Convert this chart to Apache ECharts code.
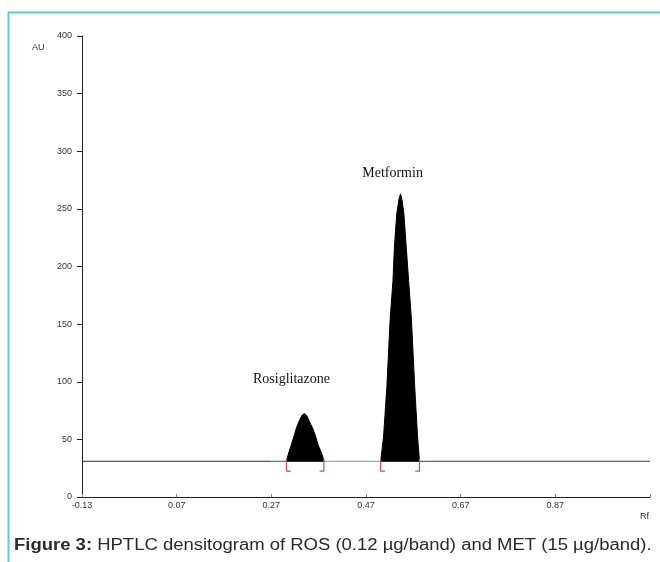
<!DOCTYPE html>
<html>
<head>
<meta charset="utf-8">
<script src="https://cdn.jsdelivr.net/npm/echarts@6/dist/echarts.min.js"></script>
<style>
html,body{margin:0;padding:0;background:#fff;}
#chart{width:660px;height:562px;}
</style>
</head>
<body>
<div id="chart"></div>
<script>
// ---------- data ----------
const xTickLabels = ['-0.13', '0.07', '0.27', '0.47', '0.67', '0.87'];
const yTickLabels = ['0', '50', '100', '150', '200', '250', '300', '350', '400'];
const baselineAU = 31;
// baseline break points (Rf) and the segment colours between them
const baselineRf = [-0.13, 0.27, 0.302, 0.381, 0.501, 0.583, 1.07];
const baselineColors = ['#2b2b2b', '#6d3a63', '#000000', '#5e9fb3', '#000000', '#5b2b52'];
// Rosiglitazone peak (Rf, AU)
const rosRf = [0.302, 0.305, 0.312, 0.318, 0.323, 0.330, 0.335, 0.340, 0.345, 0.351, 0.358, 0.364, 0.369, 0.378, 0.381];
const rosAU = [31, 36, 45, 53, 60, 67, 71, 72.5, 70.5, 65, 59, 52, 45, 36, 31];
// Metformin peak (Rf, AU)
const metRf = [0.501, 0.507, 0.514, 0.521, 0.527, 0.530, 0.535, 0.540, 0.543, 0.546, 0.550, 0.555, 0.560, 0.566, 0.573, 0.579, 0.583];
const metAU = [31, 52, 95, 154, 188, 217, 246, 259, 263, 258, 246, 217, 188, 154, 95, 52, 31];
// integration bracket positions (peak start / end, Rf)
const bracketStart = [0.302, 0.501];
const bracketEnd = [0.381, 0.583];
const peakNames = ['Rosiglitazone', 'Metformin'];

// ---------- axis offset so that min is a multiple of the interval ----------
const SHIFT = 0.13;
const sx = v => +(v + SHIFT).toFixed(4);

const chart = echarts.init(document.getElementById('chart'), null, {renderer: 'canvas'});

const series = [];
for (let i = 0; i < baselineColors.length; i++) {
  series.push({
    type: 'line', silent: true, symbol: 'none', z: 2,
    data: [[sx(baselineRf[i]), baselineAU], [sx(baselineRf[i + 1]), baselineAU]],
    lineStyle: {color: baselineColors[i], width: 1}
  });
}
function peakSeries(rf, au, name, labelOffset) {
  let top = 0;
  au.forEach((v, i) => { if (v > au[top]) top = i; });
  return {
    type: 'line', silent: true, symbol: 'none', z: 3,
    data: rf.map((x, i) => [sx(x), au[i]]),
    lineStyle: {color: '#000', width: 1},
    areaStyle: {color: '#000', opacity: 1, origin: baselineAU},
    markPoint: {
      symbol: 'circle', symbolSize: 0, silent: true,
      data: [{coord: [sx(rf[top]), au[top]], value: name}],
      label: {
        show: true, position: 'top', offset: labelOffset,
        formatter: name, color: '#111',
        fontFamily: 'Liberation Serif', fontSize: 14
      }
    }
  };
}
series.push(peakSeries(rosRf, rosAU, peakNames[0], [-13, -22]));
series.push(peakSeries(metRf, metAU, peakNames[1], [-8, -9]));

// brackets
const bTop = baselineAU + 2.5, bBot = baselineAU - 8.5, foot = 0.009;
const bData = [];
bracketStart.forEach(x => { bData.push([sx(x), bTop], [sx(x), bBot], [sx(x + foot), bBot], '-'); });
bracketEnd.forEach(x => { bData.push([sx(x), bTop], [sx(x), bBot], [sx(x - foot), bBot], '-'); });
series.push({
  type: 'line', silent: true, symbol: 'none', z: 4, connectNulls: false,
  data: bData, lineStyle: {color: '#c0505a', width: 1.2}
});

chart.setOption({
  animation: false,
  backgroundColor: '#fff',
  grid: {left: 82, right: 10, top: 36, bottom: 65},
  xAxis: {
    type: 'value', min: 0, max: 1.2, interval: 0.2,
    axisLine: {show: true, onZero: false, lineStyle: {color: '#222', width: 1}},
    axisTick: {show: true, inside: true, length: 3, lineStyle: {color: '#888'}},
    splitLine: {show: false},
    axisLabel: {
      margin: 4, color: '#333', fontSize: 9, fontFamily: 'Liberation Sans',
      formatter: (v, i) => xTickLabels[i] !== undefined ? xTickLabels[i] : ''
    }
  },
  yAxis: {
    type: 'value', min: 0, max: 400, interval: 50,
    axisLine: {show: true, lineStyle: {color: '#222', width: 1}},
    axisTick: {show: true, length: 5, lineStyle: {color: '#222'}},
    splitLine: {show: false},
    axisLabel: {
      margin: 10, color: '#333', fontSize: 9, fontFamily: 'Liberation Sans',
      formatter: (v, i) => yTickLabels[i] !== undefined ? yTickLabels[i] : ''
    }
  },
  series: series,
  graphic: [
    {type: 'line', shape: {x1: 8, y1: 12.5, x2: 660, y2: 12.5}, style: {stroke: '#5dcfc0', lineWidth: 2}, silent: true},
    {type: 'line', shape: {x1: 8.5, y1: 12, x2: 8.5, y2: 562}, style: {stroke: '#5dcfc0', lineWidth: 2}, silent: true},
    {type: 'text', left: 32, top: 43, style: {text: 'AU', fontSize: 9, fontFamily: 'Liberation Sans', fill: '#333'}},
    {type: 'text', left: 640, top: 512, style: {text: 'Rf', fontSize: 9, fontFamily: 'Liberation Sans', fill: '#333'}},
    {type: 'text', x: 14, y: 538, scaleX: 1.155, scaleY: 1, style: {
      text: '{b|Figure 3:} HPTLC densitogram of ROS (0.12 µg/band) and MET (15 µg/band).',
      fontSize: 16, fontFamily: 'Liberation Sans', fill: '#2a2a2a',
      rich: {b: {fontWeight: 'bold', fontSize: 16, fontFamily: 'Liberation Sans', fill: '#2a2a2a'}}
    }}
  ]
});
</script>
</body>
</html>
